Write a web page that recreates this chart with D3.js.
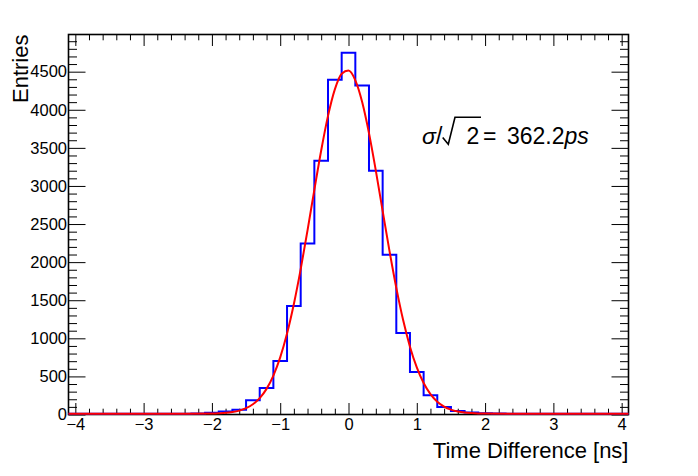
<!DOCTYPE html>
<html>
<head>
<meta charset="utf-8">
<script src="https://cdn.jsdelivr.net/npm/d3@7/dist/d3.min.js"></script>
<style>
  html, body { margin: 0; padding: 0; background: #fff; }
  svg { display: block; font-family: "Liberation Sans", Arial, Helvetica, sans-serif; }
</style>
</head>
<body>
<svg id="chart" width="698" height="476"></svg>
<script>
// ---- Data ----
const binCenters = [-4.0,-3.8,-3.6,-3.4,-3.2,-3.0,-2.8,-2.6,-2.4,-2.2,-2.0,-1.8,-1.6,-1.4,-1.2,-1.0,-0.8,-0.6,-0.4,-0.2,
                    0.0,0.2,0.4,0.6,0.8,1.0,1.2,1.4,1.6,1.8,2.0,2.2,2.4,2.6,2.8,3.0,3.2,3.4,3.6,3.8,4.0];
const binCounts  = [0,0,0,0,0,0,0,0,0,3,12,28,52,175,337,691,1414,2235,3321,4382,
                    4739,4307,3189,2085,1060,547,241,87,35,16,5,2,0,0,0,0,0,0,0,0,0];
const binWidth = 0.2;

const fitX = [-4.1,-2.4,-2.0,-1.9,-1.8,-1.7,-1.6,-1.5,-1.4,-1.3,-1.2,-1.1,-1.0,-0.9,-0.8,-0.7,-0.6,-0.5,-0.4,-0.3,-0.2,-0.1,
              0.0,0.1,0.2,0.3,0.4,0.5,0.6,0.7,0.8,0.9,1.0,1.1,1.2,1.3,1.4,1.5,1.6,1.7,1.8,1.9,2.0,2.4,4.1];
const fitY = [0,0,3,6,11,22,40,72,124,205,326,501,740,1052,1440,1897,2407,2939,3455,3909,4257,4463,
              4504,4376,4092,3683,3191,2662,2137,1652,1229,880,607,402,257,158,94,53,29,15,8,4,2,0,0];

const xTicks = [-4,-3,-2,-1,0,1,2,3,4];
const xTickLabels = ["\u22124","\u22123","\u22122","\u22121","0","1","2","3","4"];
const yTicks = [0,500,1000,1500,2000,2500,3000,3500,4000,4500];
const yTickLabels = ["0","500","1000","1500","2000","2500","3000","3500","4000","4500"];

const xDomain = [-4.1, 4.1];
const yDomain = [0, 4988];

const xTitle = "Time Difference [ns]";
const yTitle = "Entries";

// ---- Layout ----
const svg = d3.select("#chart");
svg.append("rect").attr("width", 698).attr("height", 476).attr("fill", "#fff");

const L = 68.5, R = 628.5, T = 34.5, B = 414.5;
const x = d3.scaleLinear().domain(xDomain).range([L, R]);
const y = d3.scaleLinear().domain(yDomain).range([B, T]);

const xMinor = d3.range(-40, 41, 2).map(v => v / 10).filter(v => !xTicks.includes(v));
const yMinor = d3.range(0, 5000, 100).filter(v => !yTicks.includes(v));

const majX = 11.5, minX = 5.8, majY = 17, minY = 8.5;
const tickFont = 16.5;

function styleAxis(g) {
  g.select(".domain").remove();
  g.selectAll(".tick line").attr("stroke", "#000").attr("stroke-width", 1);
}

// bottom
svg.append("g").attr("transform", `translate(0,${B})`)
  .call(d3.axisBottom(x).tickValues(xTicks).tickSize(-majX).tickPadding(3.5)
        .tickFormat((d, i) => xTickLabels[i]))
  .call(styleAxis)
  .call(g => g.selectAll("text").attr("font-size", tickFont).attr("fill", "#000")
        .attr("font-family", "Liberation Sans, Arial, sans-serif"));
svg.append("g").attr("transform", `translate(0,${B})`)
  .call(d3.axisBottom(x).tickValues(xMinor).tickSize(-minX).tickFormat(""))
  .call(styleAxis);
// top
svg.append("g").attr("transform", `translate(0,${T})`)
  .call(d3.axisTop(x).tickValues(xTicks).tickSize(-majX).tickFormat(""))
  .call(styleAxis);
svg.append("g").attr("transform", `translate(0,${T})`)
  .call(d3.axisTop(x).tickValues(xMinor).tickSize(-minX).tickFormat(""))
  .call(styleAxis);
// left
svg.append("g").attr("transform", `translate(${L},0)`)
  .call(d3.axisLeft(y).tickValues(yTicks).tickSize(-majY).tickPadding(1.5)
        .tickFormat((d, i) => yTickLabels[i]))
  .call(styleAxis)
  .call(g => g.selectAll("text").attr("font-size", tickFont).attr("fill", "#000")
        .attr("font-family", "Liberation Sans, Arial, sans-serif"));
svg.append("g").attr("transform", `translate(${L},0)`)
  .call(d3.axisLeft(y).tickValues(yMinor).tickSize(-minY).tickFormat(""))
  .call(styleAxis);
// right
svg.append("g").attr("transform", `translate(${R},0)`)
  .call(d3.axisRight(y).tickValues(yTicks).tickSize(-majY).tickFormat(""))
  .call(styleAxis);
svg.append("g").attr("transform", `translate(${R},0)`)
  .call(d3.axisRight(y).tickValues(yMinor).tickSize(-minY).tickFormat(""))
  .call(styleAxis);

// frame
svg.append("rect").attr("x", L).attr("y", T).attr("width", R - L).attr("height", B - T)
  .attr("fill", "none").attr("stroke", "#000").attr("stroke-width", 1.6);

// histogram outline
const histPts = [[xDomain[0], 0]];
binCenters.forEach((c, i) => {
  histPts.push([c - binWidth / 2, binCounts[i]]);
  histPts.push([c + binWidth / 2, binCounts[i]]);
});
histPts.push([xDomain[1], 0]);
const histLine = d3.line().x(d => x(d[0])).y(d => y(d[1]) - 0.8);
svg.append("path").attr("d", histLine(histPts))
  .attr("fill", "none").attr("stroke", "#0000ff").attr("stroke-width", 2)
  .attr("stroke-linejoin", "miter");

// fit curve
const fitLine = d3.line().x((d, i) => x(fitX[i])).y((d, i) => y(fitY[i]) - 0.8).curve(d3.curveMonotoneX);
svg.append("path").attr("d", fitLine(fitX))
  .attr("fill", "none").attr("stroke", "#ff0000").attr("stroke-width", 2);

// axis titles
svg.append("text").attr("x", R).attr("y", 458).attr("text-anchor", "end")
  .attr("font-size", 22).attr("fill", "#000").text(xTitle);
svg.append("text").attr("transform", `translate(28,${T}) rotate(-90)`).attr("text-anchor", "end")
  .attr("font-size", 22).attr("fill", "#000").text(yTitle);

// annotation sigma/sqrt(2) = 362.2ps
const ann = svg.append("g").attr("fill", "#000").attr("font-size", 23);
ann.append("text").attr("x", 422).attr("y", 144).attr("font-style", "italic").text("\u03C3");
ann.append("text").attr("x", 436).attr("y", 144).text("/");
ann.append("path").attr("d", "M442.7,137.5 L448.3,144.3 L455,117.3 L481,117.3")
  .attr("fill", "none").attr("stroke", "#000").attr("stroke-width", 1.6);
ann.append("text").attr("x", 466.5).attr("y", 144).text("2");
ann.append("text").attr("x", 483).attr("y", 144).text("=");
ann.append("text").attr("x", 507).attr("y", 144).text("362.2");
ann.append("text").attr("x", 564.5).attr("y", 144).attr("font-style", "italic").text("ps");
</script>
</body>
</html>
